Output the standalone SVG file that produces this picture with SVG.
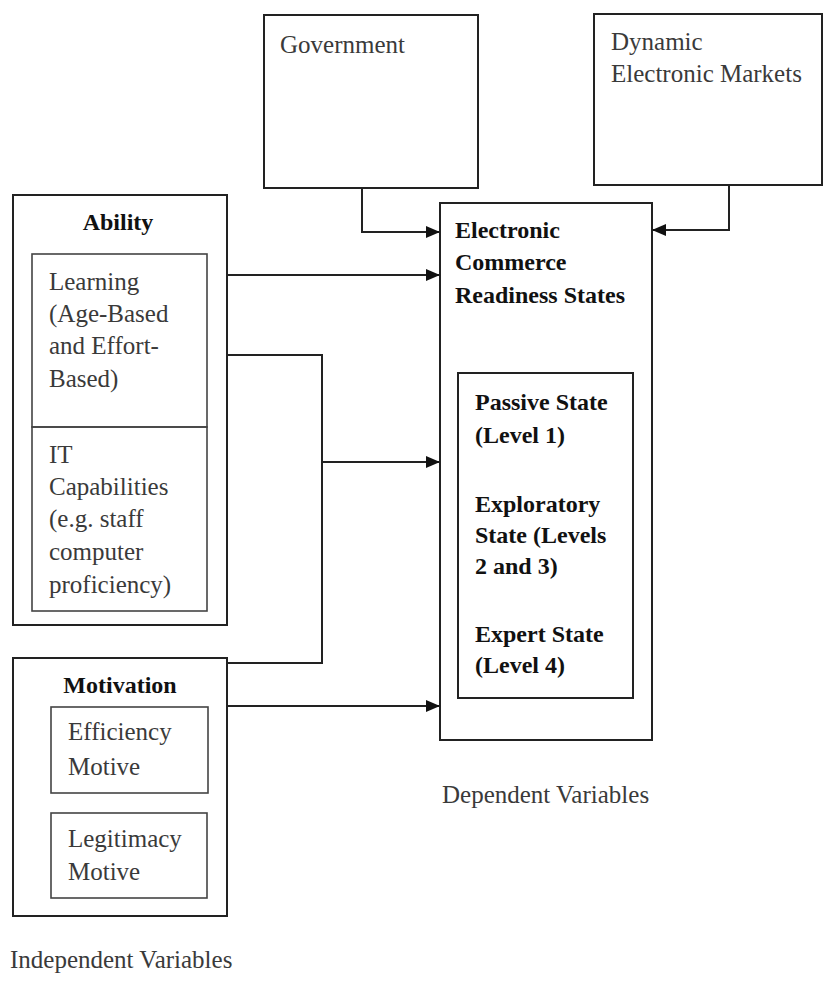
<svg xmlns="http://www.w3.org/2000/svg" width="824" height="982" viewBox="0 0 824 982">
<style>
.box{fill:none;stroke:#222;stroke-width:2}
.inner{fill:none;stroke:#444;stroke-width:1.6}
.t{font-family:"Liberation Serif","Times New Roman",serif;font-size:25px;fill:#3a3a3a}
.b{font-family:"Liberation Serif","Times New Roman",serif;font-size:24px;font-weight:bold;fill:#111}
.c{fill:none;stroke:#222;stroke-width:2}
</style>
<defs>
<marker id="ah" viewBox="0 0 14 12" refX="14" refY="6" markerWidth="14" markerHeight="12" markerUnits="userSpaceOnUse" orient="auto">
<path d="M0,0 L14,6 L0,12 Z" fill="#111"/>
</marker>
</defs>
<rect width="824" height="982" fill="#fff"/>
<g id="government">
<rect class="box" x="264" y="15" width="214" height="173"/>
<text class="t" x="280" y="53">Government</text>
</g>
<g id="markets">
<rect class="box" x="594" y="14" width="228" height="171"/>
<text class="t" x="611" y="50">Dynamic</text>
<text class="t" x="611" y="82">Electronic Markets</text>
</g>
<g id="ability">
<rect class="box" x="13" y="195" width="214" height="430"/>
<text class="b" x="118" y="230" text-anchor="middle">Ability</text>
</g>
<g id="learning">
<rect class="inner" x="32" y="254" width="175" height="173"/>
<text class="t" x="49" y="290">Learning</text>
<text class="t" x="49" y="322">(Age-Based</text>
<text class="t" x="49" y="354">and Effort-</text>
<text class="t" x="49" y="387">Based)</text>
</g>
<g id="it">
<rect class="inner" x="32" y="427" width="175" height="184"/>
<text class="t" x="49" y="463">IT</text>
<text class="t" x="49" y="495">Capabilities</text>
<text class="t" x="49" y="527">(e.g. staff</text>
<text class="t" x="49" y="560">computer</text>
<text class="t" x="49" y="593">proficiency)</text>
</g>
<g id="motivation">
<rect class="box" x="13" y="658" width="214" height="258"/>
<text class="b" x="120" y="693" text-anchor="middle">Motivation</text>
</g>
<g id="efficiency">
<rect class="inner" x="51" y="707" width="157" height="86"/>
<text class="t" x="68" y="740">Efficiency</text>
<text class="t" x="68" y="775">Motive</text>
</g>
<g id="legitimacy">
<rect class="inner" x="51" y="813" width="156" height="85"/>
<text class="t" x="68" y="847">Legitimacy</text>
<text class="t" x="68" y="880">Motive</text>
</g>
<g id="readiness">
<rect class="box" x="440" y="203" width="212" height="537"/>
<text class="b" x="455" y="238">Electronic</text>
<text class="b" x="455" y="270">Commerce</text>
<text class="b" x="455" y="303">Readiness States</text>
</g>
<g id="states">
<rect class="box" x="458" y="373" width="175" height="325"/>
<text class="b" x="475" y="410">Passive State</text>
<text class="b" x="475" y="443">(Level 1)</text>
<text class="b" x="475" y="512">Exploratory</text>
<text class="b" x="475" y="543">State (Levels</text>
<text class="b" x="475" y="574">2 and 3)</text>
<text class="b" x="475" y="642">Expert State</text>
<text class="b" x="475" y="673">(Level 4)</text>
</g>
<g id="labels">
<text class="t" x="442" y="803">Dependent Variables</text>
<text class="t" x="10" y="968">Independent Variables</text>
</g>
<g id="connectors">
<path class="c" d="M362,188 V232 H440" marker-end="url(#ah)"/>
<path class="c" d="M729,185 V230 H652" marker-end="url(#ah)"/>
<path class="c" d="M227,275 H440" marker-end="url(#ah)"/>
<path class="c" d="M227,355 H322 V663 H227"/>
<path class="c" d="M322,462 H440" marker-end="url(#ah)"/>
<path class="c" d="M227,706 H440" marker-end="url(#ah)"/>
</g>
</svg>
